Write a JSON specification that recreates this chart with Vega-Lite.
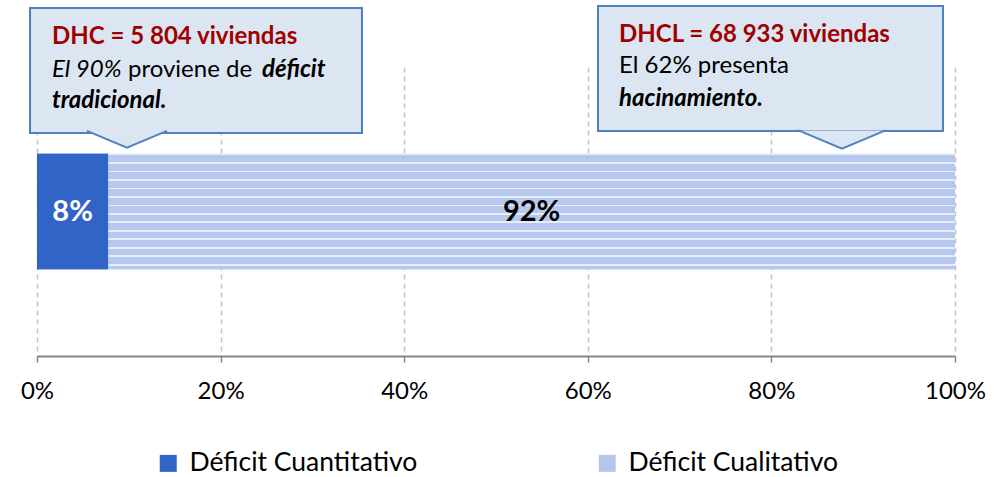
{
  "$schema": "https://vega.github.io/schema/vega-lite/v6.json",
  "width": 918,
  "height": 289,
  "autosize": {"type": "none"},
  "padding": {"left": 37, "top": 67, "right": 49, "bottom": 121},
  "background": "white",
  "config": {
    "view": {"stroke": null},
    "font": "Lato",
    "axis": {
      "domainColor": "#868686",
      "domainWidth": 2,
      "tickColor": "#868686",
      "tickWidth": 1.5,
      "tickSize": 6,
      "gridColor": "#c3c3c3",
      "gridDash": [5, 4],
      "gridWidth": 1.5,
      "labelFont": "Lato",
      "labelFontSize": 24,
      "labelColor": "#000000",
      "labelPadding": 17,
      "labelFlush": false
    }
  },
  "data": {
    "values": [
      {"tipo": "Déficit Cuantitativo", "viviendas": 5804, "label": "8%", "ord": 1},
      {"tipo": "Déficit Cualitativo", "viviendas": 68933, "label": "92%", "ord": 2}
    ]
  },
  "layer": [
    {
      "transform": [{"stack": "viviendas", "groupby": [], "sort": [{"field": "ord", "order": "ascending"}], "offset": "normalize", "as": ["x0", "x1"]}],
      "mark": {"type": "bar", "opacity": 1},
      "encoding": {
        "x": {
          "field": "x0", "type": "quantitative",
          "scale": {"domain": [0, 1], "nice": false, "padding": 0},
          "axis": {"title": null, "values": [0, 0.2, 0.4, 0.6, 0.8, 1], "format": ".0%", "grid": true}
        },
        "x2": {"field": "x1"},
        "y": {"datum": 3, "type": "quantitative", "scale": {"domain": [0, 10], "nice": false, "padding": 0}, "axis": null},
        "y2": {"datum": 7},
        "color": {
          "field": "tipo", "type": "nominal",
          "scale": {"domain": ["Déficit Cuantitativo", "Déficit Cualitativo"], "range": ["#3264c8", "#b4c6ee"]},
          "legend": {
            "title": null, "orient": "none", "legendX": 118, "legendY": 383,
            "direction": "horizontal", "symbolType": "square", "symbolSize": 289,
            "symbolStrokeWidth": 0, "symbolOpacity": 1,
            "labelFont": "Lato", "labelFontSize": 26.5, "labelColor": "#000000",
            "labelLimit": 400, "labelOffset": 8, "columnPadding": 176
          }
        }
      }
    },
    {
      "transform": [{"stack": "viviendas", "groupby": [], "sort": [{"field": "ord", "order": "ascending"}], "offset": "normalize", "as": ["x0", "x1"]}],
      "mark": {"type": "bar", "opacity": 1},
      "encoding": {
        "x": {"field": "x0", "type": "quantitative"},
        "x2": {"field": "x1"},
        "y": {"datum": 3, "type": "quantitative"},
        "y2": {"datum": 7},
        "fill": {
          "condition": {
            "test": "datum.ord == 2",
            "value": {
              "gradient": "linear", "x1": 0, "y1": 0, "x2": 0, "y2": 1,
              "stops": [
                {"offset": 0, "color": "#e6ecf8"}, {"offset": 0.0147, "color": "#e6ecf8"},
                {"offset": 0.0147, "color": "#b6c8ee"}, {"offset": 0.0733, "color": "#b6c8ee"},
                {"offset": 0.0733, "color": "#e6ecf8"}, {"offset": 0.088, "color": "#e6ecf8"},
                {"offset": 0.088, "color": "#b6c8ee"}, {"offset": 0.1466, "color": "#b6c8ee"},
                {"offset": 0.1466, "color": "#e6ecf8"}, {"offset": 0.1613, "color": "#e6ecf8"},
                {"offset": 0.1613, "color": "#b6c8ee"}, {"offset": 0.2199, "color": "#b6c8ee"},
                {"offset": 0.2199, "color": "#e6ecf8"}, {"offset": 0.2346, "color": "#e6ecf8"},
                {"offset": 0.2346, "color": "#b6c8ee"}, {"offset": 0.2932, "color": "#b6c8ee"},
                {"offset": 0.2932, "color": "#e6ecf8"}, {"offset": 0.3079, "color": "#e6ecf8"},
                {"offset": 0.3079, "color": "#b6c8ee"}, {"offset": 0.3665, "color": "#b6c8ee"},
                {"offset": 0.3665, "color": "#e6ecf8"}, {"offset": 0.3812, "color": "#e6ecf8"},
                {"offset": 0.3812, "color": "#b6c8ee"}, {"offset": 0.4398, "color": "#b6c8ee"},
                {"offset": 0.4398, "color": "#e6ecf8"}, {"offset": 0.4545, "color": "#e6ecf8"},
                {"offset": 0.4545, "color": "#b6c8ee"}, {"offset": 0.5131, "color": "#b6c8ee"},
                {"offset": 0.5131, "color": "#e6ecf8"}, {"offset": 0.5278, "color": "#e6ecf8"},
                {"offset": 0.5278, "color": "#b6c8ee"}, {"offset": 0.5864, "color": "#b6c8ee"},
                {"offset": 0.5864, "color": "#e6ecf8"}, {"offset": 0.6011, "color": "#e6ecf8"},
                {"offset": 0.6011, "color": "#b6c8ee"}, {"offset": 0.6597, "color": "#b6c8ee"},
                {"offset": 0.6597, "color": "#e6ecf8"}, {"offset": 0.6744, "color": "#e6ecf8"},
                {"offset": 0.6744, "color": "#b6c8ee"}, {"offset": 0.733, "color": "#b6c8ee"},
                {"offset": 0.733, "color": "#e6ecf8"}, {"offset": 0.7477, "color": "#e6ecf8"},
                {"offset": 0.7477, "color": "#b6c8ee"}, {"offset": 0.8063, "color": "#b6c8ee"},
                {"offset": 0.8063, "color": "#e6ecf8"}, {"offset": 0.821, "color": "#e6ecf8"},
                {"offset": 0.821, "color": "#b6c8ee"}, {"offset": 0.8796, "color": "#b6c8ee"},
                {"offset": 0.8796, "color": "#e6ecf8"}, {"offset": 0.8943, "color": "#e6ecf8"},
                {"offset": 0.8943, "color": "#b6c8ee"}, {"offset": 0.9529, "color": "#b6c8ee"},
                {"offset": 0.9529, "color": "#e6ecf8"}, {"offset": 0.9676, "color": "#e6ecf8"},
                {"offset": 0.9676, "color": "#b6c8ee"}, {"offset": 1, "color": "#b6c8ee"}
              ]
            }
          },
          "value": "#3264c8"
        }
      }
    },
    {
      "mark": {"type": "text", "font": "Lato", "fontSize": 29, "fontWeight": "bold", "align": "center", "baseline": "middle"},
      "encoding": {
        "x": {"field": "viviendas", "type": "quantitative", "stack": "normalize", "bandPosition": 0.5},
        "y": {"datum": 5, "type": "quantitative"},
        "order": {"field": "ord"},
        "detail": {"field": "tipo"},
        "text": {"field": "label"},
        "color": {"condition": {"test": "datum.ord == 1", "value": "#ffffff"}, "value": "#000000"}
      }
    },
    {
      "data": {"values": [{}]},
      "mark": {"type": "rect", "fill": "#dce6f2", "stroke": "#4f81bd", "strokeWidth": 2},
      "encoding": {
        "x": {"datum": -0.0076, "type": "quantitative"}, "x2": {"datum": 0.354},
        "y": {"datum": 7.716, "type": "quantitative"}, "y2": {"datum": 12.04}
      }
    },
    {
      "data": {"values": [{}]},
      "mark": {"type": "rect", "fill": "#dce6f2", "stroke": "#4f81bd", "strokeWidth": 2},
      "encoding": {
        "x": {"datum": 0.6111, "type": "quantitative"}, "x2": {"datum": 0.9869},
        "y": {"datum": 7.785, "type": "quantitative"}, "y2": {"datum": 12.11}
      }
    },
    {
      "data": {"values": [{}]},
      "mark": {"type": "point", "shape": "M-1,-0.21L0,0.21L1,-0.21", "size": 6400, "filled": true, "fill": "#dce6f2", "fillOpacity": 1, "stroke": "#4f81bd", "strokeWidth": 2, "opacity": 1},
      "encoding": {
        "x": {"datum": 0.098, "type": "quantitative"},
        "y": {"datum": 7.5, "type": "quantitative"}
      }
    },
    {
      "data": {"values": [{}]},
      "mark": {"type": "point", "shape": "M-1,-0.21L0,0.21L1,-0.21", "size": 7569, "filled": true, "fill": "#dce6f2", "fillOpacity": 1, "stroke": "#4f81bd", "strokeWidth": 2, "opacity": 1},
      "encoding": {
        "x": {"datum": 0.8769, "type": "quantitative"},
        "y": {"datum": 7.49, "type": "quantitative"}
      }
    },
    {
      "data": {"values": [{}]},
      "mark": {"type": "text", "text": "DHC = 5 804 viviendas", "font": "Lato", "fontSize": 24, "fontWeight": "bold", "color": "#a00000", "align": "left", "baseline": "alphabetic"},
      "encoding": {"x": {"datum": 0.01634, "type": "quantitative"}, "y": {"datum": 10.796, "type": "quantitative"}}
    },
    {
      "data": {"values": [{}]},
      "mark": {"type": "text", "text": "El 90%", "font": "Lato", "fontSize": 24, "fontStyle": "italic", "color": "#000000", "align": "left", "baseline": "alphabetic"},
      "encoding": {"x": {"datum": 0.01634, "type": "quantitative"}, "y": {"datum": 9.644, "type": "quantitative"}}
    },
    {
      "data": {"values": [{}]},
      "mark": {"type": "text", "text": "proviene de", "font": "Lato", "fontSize": 24, "color": "#000000", "align": "left", "baseline": "alphabetic"},
      "encoding": {"x": {"datum": 0.0991, "type": "quantitative"}, "y": {"datum": 9.644, "type": "quantitative"}}
    },
    {
      "data": {"values": [{}]},
      "mark": {"type": "text", "text": "déficit", "font": "Lato", "fontSize": 24, "fontStyle": "italic", "fontWeight": "bold", "color": "#000000", "align": "left", "baseline": "alphabetic"},
      "encoding": {"x": {"datum": 0.2451, "type": "quantitative"}, "y": {"datum": 9.644, "type": "quantitative"}}
    },
    {
      "data": {"values": [{}]},
      "mark": {"type": "text", "text": "tradicional.", "font": "Lato", "fontSize": 24, "fontStyle": "italic", "fontWeight": "bold", "color": "#000000", "align": "left", "baseline": "alphabetic"},
      "encoding": {"x": {"datum": 0.01634, "type": "quantitative"}, "y": {"datum": 8.571, "type": "quantitative"}}
    },
    {
      "data": {"values": [{}]},
      "mark": {"type": "text", "text": "DHCL = 68 933 viviendas", "font": "Lato", "fontSize": 24, "fontWeight": "bold", "color": "#a00000", "align": "left", "baseline": "alphabetic"},
      "encoding": {"x": {"datum": 0.634, "type": "quantitative"}, "y": {"datum": 10.865, "type": "quantitative"}}
    },
    {
      "data": {"values": [{}]},
      "mark": {"type": "text", "text": "El 62% presenta", "font": "Lato", "fontSize": 24, "color": "#000000", "align": "left", "baseline": "alphabetic"},
      "encoding": {"x": {"datum": 0.634, "type": "quantitative"}, "y": {"datum": 9.782, "type": "quantitative"}}
    },
    {
      "data": {"values": [{}]},
      "mark": {"type": "text", "text": "hacinamiento.", "font": "Lato", "fontSize": 24, "fontStyle": "italic", "fontWeight": "bold", "color": "#000000", "align": "left", "baseline": "alphabetic"},
      "encoding": {"x": {"datum": 0.634, "type": "quantitative"}, "y": {"datum": 8.651, "type": "quantitative"}}
    }
  ]
}
